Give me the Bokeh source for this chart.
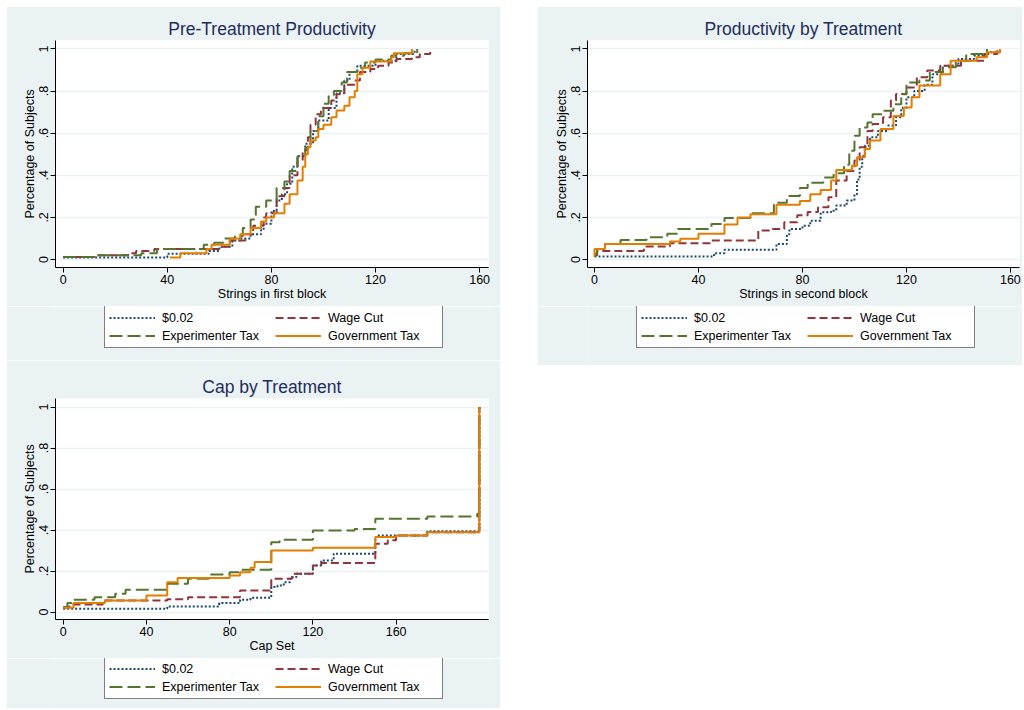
from bokeh.plotting import figure
from bokeh.models import Legend, LegendItem, Range1d, FixedTicker, Spacer
from bokeh.layouts import row, column
from bokeh.embed import file_html
from bokeh.resources import INLINE

# ---------------- data ----------------
series_names = ["$0.02", "Wage Cut", "Experimenter Tax", "Government Tax"]

# Panel 1: Pre-Treatment Productivity (strings in first block)
p1_x_base = [0, 40, 56, 60, 65, 68, 72, 76, 77, 80, 82, 84, 86, 88, 90, 93, 96, 98, 102, 105, 108, 110, 113, 120, 128, 135]
p1_y_base = [0.01, 0.027, 0.04, 0.06, 0.09, 0.10, 0.12, 0.14, 0.17, 0.23, 0.28, 0.31, 0.36, 0.44, 0.49, 0.55, 0.61, 0.66, 0.72, 0.79, 0.85, 0.89, 0.92, 0.944, 0.976, 1.0]
p1_x_wage = [0, 12, 25, 28, 35, 60, 64, 70, 73, 77, 78, 82, 85, 87, 90, 92, 94, 95, 97, 99, 103, 105, 108, 112, 114, 118, 121, 125, 128, 134, 137, 141]
p1_y_wage = [0.012, 0.02, 0.03, 0.04, 0.05, 0.06, 0.09, 0.12, 0.16, 0.2, 0.22, 0.3, 0.34, 0.4, 0.47, 0.52, 0.58, 0.64, 0.69, 0.72, 0.755, 0.785, 0.83, 0.85, 0.89, 0.905, 0.92, 0.935, 0.952, 0.96, 0.976, 1.0]
p1_x_exp = [0, 12, 30, 36, 54, 58, 62, 66, 69, 72, 74, 78, 82, 85, 87, 90, 93, 95, 98, 100, 102, 104, 107, 109, 113, 116, 120, 126, 131, 136]
p1_y_exp = [0.012, 0.02, 0.03, 0.05, 0.07, 0.08, 0.1, 0.11, 0.15, 0.19, 0.25, 0.28, 0.34, 0.37, 0.42, 0.49, 0.53, 0.61, 0.68, 0.74, 0.78, 0.8, 0.84, 0.89, 0.91, 0.935, 0.95, 0.967, 0.98, 1.0]
p1_x_gov = [41, 45, 55, 57, 64, 68, 72, 76, 78, 81, 85, 87, 90, 92, 93, 94, 95, 97, 98, 100, 103, 105, 108, 110, 112, 113, 115, 118, 126, 127, 134]
p1_y_gov = [0.01, 0.03, 0.05, 0.07, 0.1, 0.12, 0.15, 0.18, 0.2, 0.22, 0.265, 0.31, 0.375, 0.44, 0.5, 0.533, 0.565, 0.58, 0.62, 0.64, 0.676, 0.707, 0.73, 0.77, 0.8, 0.88, 0.91, 0.94, 0.96, 0.98, 1.0]

# Panel 2: Productivity by Treatment (strings in second block)
p2_x_base = [0, 46, 50, 70, 74, 75, 80, 83, 87, 91, 93, 97, 100, 101, 102, 103, 104, 106, 109, 113, 116, 118, 120, 123, 127, 130, 134, 140, 146, 151, 156]
p2_y_base = [0.014, 0.03, 0.046, 0.074, 0.12, 0.145, 0.16, 0.184, 0.224, 0.232, 0.256, 0.28, 0.31, 0.38, 0.44, 0.49, 0.54, 0.58, 0.61, 0.636, 0.676, 0.72, 0.77, 0.80, 0.83, 0.88, 0.92, 0.952, 0.968, 0.984, 1.0]
p2_x_wage = [0, 1, 19, 29, 45, 63, 68, 73, 78, 82, 86, 90, 93, 97, 100, 102, 105, 107, 111, 114, 116, 120, 124, 128, 133, 141, 150, 155]
p2_y_wage = [0.02, 0.04, 0.062, 0.077, 0.09, 0.138, 0.145, 0.177, 0.21, 0.225, 0.248, 0.296, 0.375, 0.42, 0.47, 0.533, 0.61, 0.644, 0.675, 0.755, 0.786, 0.817, 0.865, 0.897, 0.92, 0.944, 0.976, 1.0]
p2_x_exp = [0, 1, 4, 10, 20, 28, 32, 45, 50, 60, 69, 74, 79, 82, 88, 92, 96, 98, 100, 102, 105, 107, 111, 115, 118, 120, 125, 129, 134, 139, 143, 151]
p2_y_exp = [0.027, 0.05, 0.074, 0.093, 0.106, 0.122, 0.145, 0.169, 0.197, 0.22, 0.27, 0.302, 0.34, 0.365, 0.389, 0.41, 0.45, 0.517, 0.588, 0.627, 0.65, 0.69, 0.706, 0.737, 0.785, 0.84, 0.85, 0.89, 0.913, 0.944, 0.976, 1.0]
p2_x_gov = [0, 0, 4, 29, 33, 40, 50, 55, 60, 70, 79, 83, 87, 91, 93, 99, 101, 104, 106, 110, 115, 119, 122, 125, 133, 137, 147, 151, 156]
p2_y_gov = [0.012, 0.05, 0.074, 0.086, 0.098, 0.122, 0.166, 0.2, 0.215, 0.26, 0.278, 0.31, 0.33, 0.375, 0.425, 0.445, 0.485, 0.525, 0.565, 0.62, 0.682, 0.722, 0.77, 0.826, 0.88, 0.944, 0.96, 0.984, 1.0]

# Panel 3: Cap by Treatment (cap set)
p3_x_base = [0, 50, 75, 85, 90, 100, 103, 106, 109, 112, 120, 124, 130, 150, 151, 175, 200]
p3_y_base = [0.016, 0.028, 0.044, 0.06, 0.07, 0.122, 0.13, 0.146, 0.17, 0.187, 0.228, 0.252, 0.285, 0.366, 0.374, 0.395, 1.0]
p3_x_wage = [0, 3, 19, 50, 60, 85, 100, 110, 120, 124, 150, 156, 160, 175, 200]
p3_y_wage = [0.024, 0.037, 0.057, 0.063, 0.073, 0.106, 0.163, 0.187, 0.228, 0.24, 0.333, 0.35, 0.374, 0.39, 1.0]
p3_x_exp = [0, 2, 5, 15, 25, 30, 50, 60, 70, 80, 85, 100, 104, 120, 140, 150, 175, 199, 200]
p3_y_exp = [0.024, 0.045, 0.06, 0.073, 0.089, 0.109, 0.138, 0.163, 0.184, 0.195, 0.207, 0.341, 0.353, 0.398, 0.406, 0.455, 0.467, 0.48, 1.0]
p3_x_gov = [0, 5, 20, 40, 50, 55, 80, 85, 90, 92, 100, 120, 150, 160, 175, 200]
p3_y_gov = [0.021, 0.044, 0.057, 0.081, 0.146, 0.167, 0.179, 0.195, 0.216, 0.244, 0.3, 0.314, 0.366, 0.374, 0.39, 1.0]

x_ticks = [0, 40, 80, 120, 160]
y_ticks = [0, 0.2, 0.4, 0.6, 0.8, 1]
y_tick_labels = ["0", ".2", ".4", ".6", ".8", "1"]

# ---------------- style ----------------
BG = "#EAF2F3"
FONT = "Liberation Sans"
TITLE_COLOR = "#1F2D5C"
colors = ["#1A476F", "#90353B", "#55752F", "#E37E00"]
dashes = ["2 2", "8 4", "13 5", "solid"]


def make_plot(title, xlabel, xs, ys, xr, yr, width, height, left, right, top, bottom):
    p = figure(width=width, height=height, output_backend="svg",
               toolbar_location=None, x_range=Range1d(*xr), y_range=Range1d(*yr),
               min_border_left=left, min_border_right=right,
               min_border_top=top, min_border_bottom=bottom,
               title=title)
    p.border_fill_color = BG
    p.background_fill_color = "white"
    p.outline_line_color = None
    p.title.align = "center"
    p.title.text_font = FONT
    p.title.text_font_size = "17.5px"
    p.title.text_font_style = "normal"
    p.title.text_color = TITLE_COLOR
    p.title.standoff = 3

    p.xgrid.visible = False
    p.ygrid.grid_line_color = BG
    p.ygrid.grid_line_width = 1.5

    p.xaxis.ticker = FixedTicker(ticks=x_ticks)
    p.yaxis.ticker = FixedTicker(ticks=y_ticks)
    p.yaxis.major_label_overrides = {t: l for t, l in zip(y_ticks, y_tick_labels)}
    p.yaxis.major_label_orientation = "vertical"
    for ax in (p.xaxis, p.yaxis):
        ax.axis_line_color = "black"
        ax.major_tick_line_color = "black"
        ax.major_tick_out = 5
        ax.major_tick_in = 0
        ax.minor_tick_line_color = None
        ax.major_label_text_font = FONT
        ax.major_label_text_font_size = "12.5px"
        ax.major_label_text_color = "black"
        ax.axis_label_text_font = FONT
        ax.axis_label_text_font_size = "12.5px"
        ax.axis_label_text_font_style = "normal"
        ax.axis_label_text_color = "black"
        ax.major_label_standoff = 2
        ax.axis_label_standoff = 0
    p.xaxis.axis_label = xlabel
    p.yaxis.axis_label = "Percentage of Subjects"

    for x, y, c, d in zip(xs, ys, colors, dashes):
        p.step(x=x, y=y, mode="after", line_color=c, line_width=2, line_dash=d)
    return p


def make_legend(width, height, xs, ys, leg_x, leg_y):
    # a strip below each chart that only holds the legend box; the series are
    # drawn here again but the view range (y 5..6) keeps them out of sight
    f = figure(width=width, height=height, output_backend="svg", toolbar_location=None,
               x_range=Range1d(0, 1), y_range=Range1d(5, 6),
               x_axis_location=None, y_axis_location=None, min_border=0)
    f.grid.visible = False
    f.outline_line_color = None
    f.background_fill_color = BG
    f.border_fill_color = BG
    items = []
    for name, x, y, c, d in zip(series_names, xs, ys, colors, dashes):
        r = f.step(x=x, y=y, mode="after", line_color=c, line_width=2, line_dash=d)
        items.append(LegendItem(label=name, renderers=[r]))
    leg = Legend(items=items, location=(leg_x, leg_y), orientation="horizontal", ncols=2)
    leg.glyph_width = 46
    leg.glyph_height = 15
    leg.label_height = 15
    leg.label_width = 110
    leg.label_standoff = 7
    leg.spacing = 3
    leg.padding = 4
    leg.margin = 0
    leg.border_line_color = "black"
    leg.border_line_width = 1
    leg.background_fill_color = "white"
    leg.background_fill_alpha = 1
    leg.label_text_font = FONT
    leg.label_text_font_size = "12.5px"
    leg.label_text_color = "black"
    f.add_layout(leg)
    return f


xs1 = [p1_x_base, p1_x_wage, p1_x_exp, p1_x_gov]
ys1 = [p1_y_base, p1_y_wage, p1_y_exp, p1_y_gov]
xs2 = [p2_x_base, p2_x_wage, p2_x_exp, p2_x_gov]
ys2 = [p2_y_base, p2_y_wage, p2_y_exp, p2_y_gov]
xs3 = [p3_x_base, p3_x_wage, p3_x_exp, p3_x_gov]
ys3 = [p3_y_base, p3_y_wage, p3_y_exp, p3_y_gov]

p1 = make_plot("Pre-Treatment Productivity", "Strings in first block", xs1, ys1,
               (-2.96, 163.4), (-0.038, 1.04), 494, 300, 49, 12, 34, 39)
l1 = make_legend(494, 54, xs1, ys1, 49, 12)

p2 = make_plot("Productivity by Treatment", "Strings in second block", xs2, ys2,
               (-2.7, 163.5), (-0.038, 1.04), 485, 300, 50, 3, 34, 39)
l2 = make_legend(485, 59, xs2, ys2, 49, 17)

p3 = make_plot("Cap by Treatment", "Cap Set", xs3, ys3,
               (-3.7, 204.4), (-0.036, 1.042), 494, 298, 49, 12, 38, 39)
l3 = make_legend(494, 50, xs3, ys3, 49, 9)

layout = column(
    Spacer(height=6),
    row(Spacer(width=6), column(p1, l1, p3, l3), Spacer(width=37), column(p2, l2)),
)

open("out.html", "w").write(file_html(layout, INLINE))
